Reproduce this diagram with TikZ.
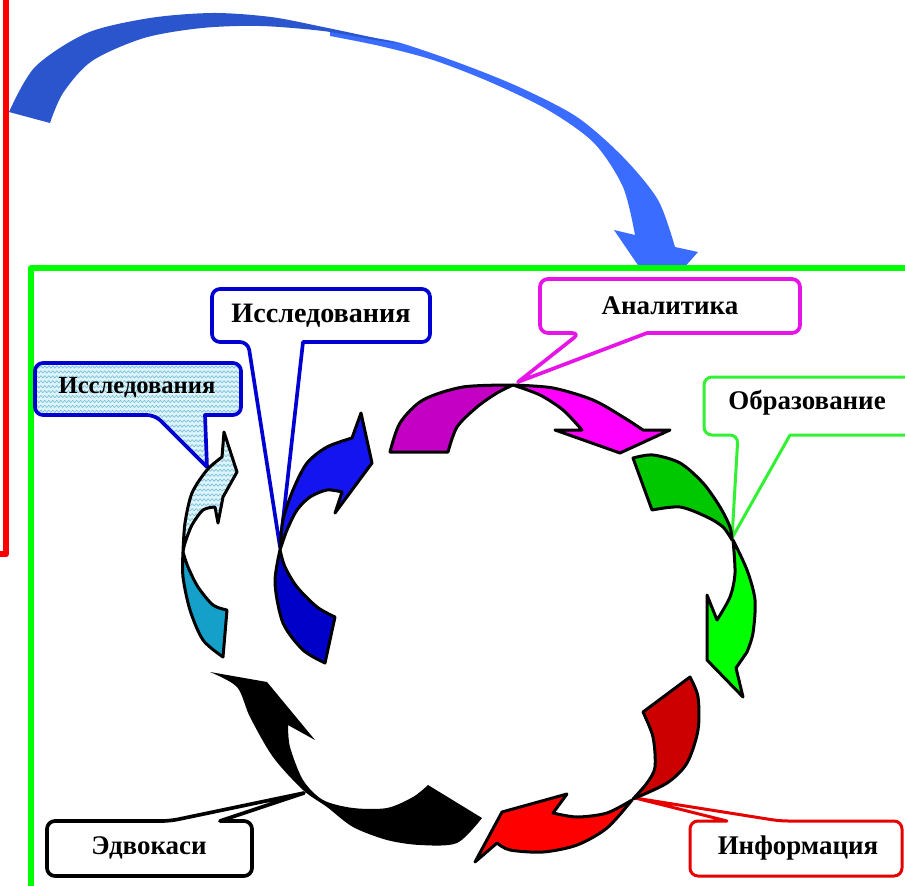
\documentclass[tikz,border=0pt]{standalone}
\usepackage{fontspec}
\setmainfont{Liberation Serif}
\usepackage{tikz}
\usetikzlibrary{patterns}
\definecolor{bigdark}{RGB}{43, 85, 204}
\definecolor{biglight}{RGB}{58, 108, 255}
\definecolor{framered}{RGB}{255, 0, 0}
\definecolor{framegreen}{RGB}{0, 255, 0}
\definecolor{palecyan}{RGB}{222, 243, 250}
\definecolor{wavecyan}{RGB}{110, 190, 215}
\definecolor{tealblue}{RGB}{20, 160, 200}
\definecolor{blueup}{RGB}{20, 20, 240}
\definecolor{bluedown}{RGB}{0, 0, 200}
\definecolor{magdark}{RGB}{195, 0, 195}
\definecolor{maglight}{RGB}{255, 0, 255}
\definecolor{grndark}{RGB}{0, 200, 0}
\definecolor{grnlight}{RGB}{0, 255, 0}
\definecolor{reddark}{RGB}{204, 0, 0}
\definecolor{redlight}{RGB}{255, 0, 0}
\definecolor{calloutblue}{RGB}{0, 0, 210}
\definecolor{calloutmag}{RGB}{230, 20, 230}
\definecolor{calloutgrn}{RGB}{50, 240, 50}
\definecolor{calloutred}{RGB}{230, 0, 0}
\pgfdeclarepatternformonly{waves}{\pgfqpoint{-1pt}{-1pt}}{\pgfqpoint{5pt}{5pt}}{\pgfqpoint{3.4pt}{4.2pt}}{
  \pgfsetlinewidth{0.5pt}
  \pgfpathmoveto{\pgfqpoint{0pt}{2pt}}
  \pgfpathlineto{\pgfqpoint{0.85pt}{3pt}}
  \pgfpathlineto{\pgfqpoint{2.55pt}{1pt}}
  \pgfpathlineto{\pgfqpoint{3.4pt}{2pt}}
  \pgfusepath{stroke}}

\begin{document}
\begin{tikzpicture}[x=0.3mm, y=-0.3mm, line join=round,
  piece/.style={draw=black, line width=0.9mm},
  bubble/.style={line width=1.1mm, fill=white},
  waved/.style={preaction={fill=palecyan}, pattern=waves, pattern color=wavecyan},
  bubbletext/.style={font=\bfseries\fontsize{23}{26}\selectfont, inner sep=0pt}]

  \useasboundingbox (0,0) rectangle (905,886);

  % big jump arrow
  \fill[biglight] plot[smooth] coordinates {(330,31) (375,38) (404,44) (462,64) (519,87) (577,117) (623,157) (658,200) (675,247)}
    -- (698,252) -- (659,296) -- (614,230) -- (635,235)
    -- plot[smooth] coordinates {(635,235) (623,187) (594,143) (548,110) (490,82) (433,60) (380,46) (330,36)} -- cycle;
  \fill[bigdark] plot[smooth] coordinates {(9,112) (35,67) (87,33) (150,18) (213,13) (271,17) (323,27) (375,38) (402,44)}
    -- plot[smooth] coordinates {(402,44) (375,40) (323,31) (260,26) (202,28) (144,38) (92,61) (63,93) (50,123)} -- cycle;

  \draw[framered, line width=1.8mm] (6,-10) -- (6,554) -- (-10,554);
  \filldraw[fill=white, draw=framegreen, line width=1.8mm] (31,268) rectangle (915,890);

  \coordinate (tipA) at (207,467);
  \coordinate (tipB) at (280,547);
  \coordinate (tipC) at (518,382);
  \coordinate (tipD) at (732,538);
  \coordinate (tipE) at (635,798);
  \coordinate (tipF) at (304,793);

  % callouts
  \draw[bubble, waved, draw=calloutblue] (tipA) -- (205,415) [rounded corners=2.4mm] -- (241,415) -- (241,363)
    -- (35,363) -- (35,415) -- (155,415) [sharp corners] -- cycle;
  \node[bubbletext, font=\bfseries\fontsize{21}{24}\selectfont] (isslA) at (137,388) {Исследования};

  \draw[bubble, draw=calloutblue] (tipB) -- (303,342) [rounded corners=2.4mm] -- (430,342) -- (430,289)
    -- (212,289) -- (212,342) -- (248,342) [sharp corners] -- cycle;
  \node[bubbletext, font=\bfseries\fontsize{24}{27}\selectfont] (isslB) at (321,316) {Исследования};

  \draw[bubble, draw=calloutmag] (tipC) -- (647,333) [rounded corners=2.4mm] -- (800,333) -- (800,279)
    -- (540,279) -- (540,333) -- (580,333) [sharp corners] -- cycle;
  \node[bubbletext] (anal) at (670,306) {Аналитика};

  \draw[bubble, draw=calloutgrn, line width=0.9mm] (tipD) -- (790,435) [rounded corners=2.4mm] -- (920,435) -- (920,377)
    -- (704,377) -- (704,435) -- (738,435) [sharp corners] -- cycle;
  \node[bubbletext] (obraz) at (807,403) {Образование};

  \draw[bubble, draw=calloutred, line width=0.9mm] (tipE) -- (727,821) [rounded corners=2.4mm] -- (690,821) -- (690,876)
    -- (902,876) -- (902,821) -- (780,821) [sharp corners] -- cycle;
  \node[bubbletext] (inform) at (798,848) {Информация};

  \draw[bubble, draw=black] (tipF) -- (220,821) [rounded corners=2.4mm] -- (252,821) -- (252,876)
    -- (47,876) -- (47,821) -- (170,821) [sharp corners] -- cycle;
  \node[bubbletext] (advoc) at (149,848) {Эдвокаси};

  % cycle of arrows
  \draw[piece, waved] (183,552) -- plot[smooth] coordinates {(183,552) (185,523) (192,493) (207,470) (222,457)}
    -- (224,432) -- (237,472) -- (223,497) -- (218,523) -- (215,507)
    -- plot[smooth] coordinates {(215,507) (203,510) (192,525) (185,543) (183,552)} -- cycle;
  \filldraw[piece, fill=tealblue] (183,552) -- plot[smooth] coordinates {(183,552) (183,577) (190,610) (203,640) (223,657)}
    -- (227,610) -- plot[smooth] coordinates {(227,610) (213,605) (198,587) (188,567) (183,552)} -- cycle;

  \filldraw[piece, fill=blueup] (280,550) -- plot[smooth] coordinates {(280,550) (283,520) (293,490) (307,463) (327,447) (352,438)}
    -- (361,413) -- (372,463) -- (335,513) -- (342,492)
    -- plot[smooth] coordinates {(342,492) (327,490) (310,497) (297,510) (287,530) (280,550)} -- cycle;
  \filldraw[piece, fill=bluedown] (280,550) -- plot[smooth] coordinates {(280,550) (275,583) (283,623) (303,650) (325,663)}
    -- (335,617) -- plot[smooth] coordinates {(335,617) (317,607) (297,587) (285,567) (280,550)} -- cycle;

  \filldraw[piece, fill=magdark] (390,452) -- plot[smooth] coordinates {(390,452) (400,423) (423,400) (463,387) (513,385)}
    -- plot[smooth] coordinates {(513,385) (497,393) (477,407) (457,427) (448,452)} -- cycle;
  \filldraw[piece, fill=maglight] (513,385) -- plot[smooth] coordinates {(513,385) (553,388) (593,400) (623,417) (643,430)}
    -- (670,430) -- (620,453) -- (555,430) -- (582,430)
    -- plot[smooth] coordinates {(582,430) (563,410) (540,395) (513,385)} -- cycle;

  \filldraw[piece, fill=grndark] (633,458) -- plot[smooth] coordinates {(633,458) (653,455) (680,463) (703,483) (720,507) (730,527) (732,540)}
    -- plot[smooth] coordinates {(732,540) (723,527) (707,517) (680,507) (652,510)} -- cycle;
  \filldraw[piece, fill=grnlight] (733,540) -- plot[smooth] coordinates {(733,540) (747,570) (755,600) (753,633) (747,652)}
    -- (736,668) -- (743,697) -- (707,660) -- (707,595) -- (717,620)
    -- plot[smooth] coordinates {(717,620) (730,597) (735,573) (733,540)} -- cycle;

  \filldraw[piece, fill=reddark] (690,677) -- plot[smooth] coordinates {(690,677) (698,697) (698,730) (687,763) (667,783) (633,799)}
    -- plot[smooth] coordinates {(633,799) (647,783) (655,767) (653,737) (643,712)} -- cycle;
  \filldraw[piece, fill=redlight] (632,800) -- plot[smooth] coordinates {(632,800) (607,813) (577,817) (553,813)}
    -- (567,794) -- (502,812) -- (475,862) -- (497,843)
    -- plot[smooth] coordinates {(497,843) (510,850) (543,852) (577,845) (607,828) (632,800)} -- cycle;

  \fill[black] (210,672) -- (267,682) -- (315,740) -- (288,725)
    -- plot[smooth] coordinates {(288,725) (290,747) (303,780) (323,800) (353,808) (387,808) (413,797) (428,785)}
    -- (482,818)
    -- plot[smooth] coordinates {(482,818) (457,843) (420,845) (387,840) (353,827) (327,807) (303,790) (273,757) (250,717) (237,687) (210,672)} -- cycle;

\end{tikzpicture}
\end{document}
